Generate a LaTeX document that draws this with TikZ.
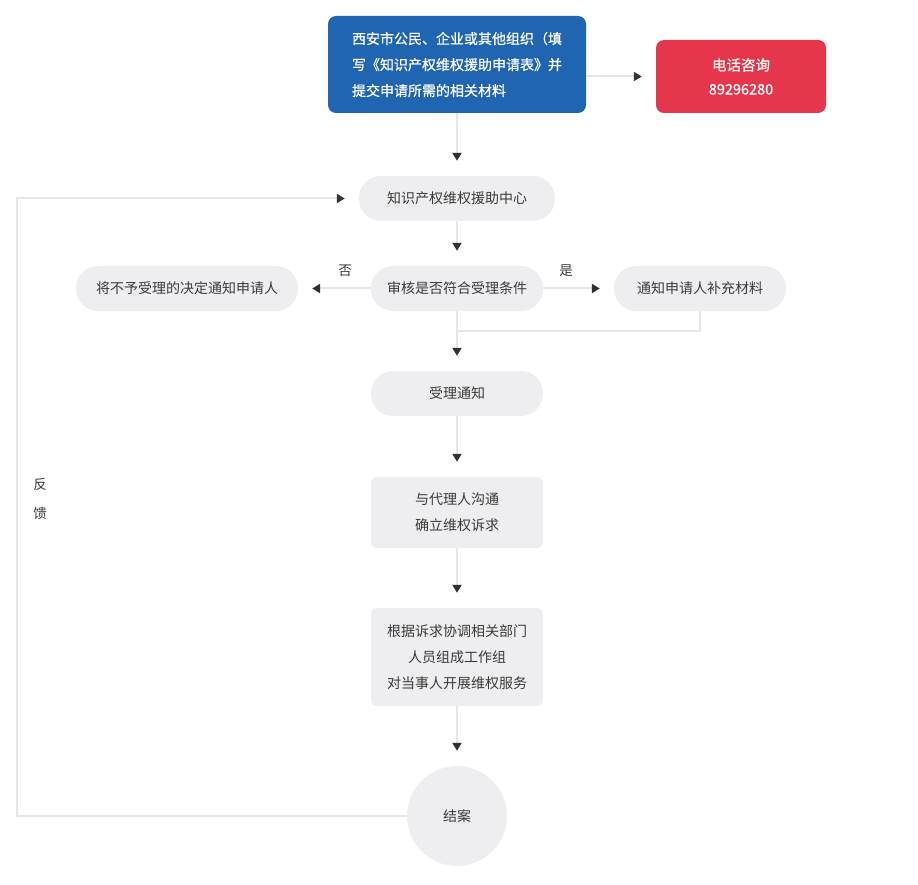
\documentclass[tikz,border=0pt]{standalone}
\usepackage{fontspec}
\setmainfont{Noto Sans CJK SC}
\newfontfamily\boldcjk[FakeBold=0.6]{Noto Sans CJK SC}
\usetikzlibrary{arrows.meta}
\definecolor{bluebox}{HTML}{1F65B2}
\definecolor{redbox}{HTML}{E5364B}
\definecolor{pillgray}{HTML}{EEEEF0}
\definecolor{linegray}{HTML}{E6E6E6}
\definecolor{tipgray}{HTML}{333333}
\definecolor{txtgray}{HTML}{3A3A3A}
\newcommand{\fs}{\fontsize{14}{26}\selectfont}
\begin{document}
\begin{tikzpicture}[x=1pt,y=-1pt,
  conn/.style={draw=linegray, line width=2pt},
  arr/.style={conn, -{Triangle[length=8pt,width=9pt,color=tipgray]}, shorten >=14pt},
  pill/.style={fill=pillgray, rounded corners=22pt, minimum height=45pt, inner sep=0pt, text=txtgray, font=\fs, align=center},
  rbox/.style={fill=pillgray, rounded corners=6pt, minimum width=172pt, inner sep=0pt, text=txtgray, font=\fs, align=center},
  lbl/.style={text=txtgray, font=\fontsize{13.5}{15}\selectfont, inner sep=0pt}
]
\useasboundingbox (0,0) rectangle (918,885);

\node[fill=bluebox, rounded corners=8pt, minimum width=258pt, minimum height=97pt, inner sep=0pt,
  text=white, font=\boldcjk\fontsize{14}{26}\selectfont, align=left] (apply) at (457,64.5)
  {西安市公民、企业或其他组织（填\\写《知识产权维权援助申请表》并\\提交申请所需的相关材料};
\node[fill=redbox, rounded corners=8pt, minimum width=170pt, minimum height=73pt, inner sep=0pt,
  text=white, font=\boldcjk\fontsize{14.5}{24}\selectfont, align=center] (phone) at (741,76.5)
  {电话咨询\\89296280};

\node[pill, minimum width=196pt] (center) at (457,198.5) {知识产权维权援助中心};
\node[pill, minimum width=172pt] (audit) at (457,288.5) {审核是否符合受理条件};
\node[pill, minimum width=222pt] (reject) at (187,288.5) {将不予受理的决定通知申请人};
\node[pill, minimum width=172pt] (supp) at (700,288.5) {通知申请人补充材料};
\node[pill, minimum width=172pt] (notice) at (457,393.5) {受理通知};
\node[rbox, minimum height=71pt] (talk) at (457,512.5) {与代理人沟通\\确立维权诉求};
\node[rbox, minimum height=98pt] (coord) at (457,657) {根据诉求协调相关部门\\人员组成工作组\\对当事人开展维权服务};
\node[circle, fill=pillgray, minimum size=100pt, inner sep=0pt, text=txtgray, font=\fs] (end) at (457,816) {结案};

\node[lbl] (no) at (345,271) {否};
\node[lbl] (yes) at (566,271) {是};
\node[lbl] (fb1) at (40,484) {反};
\node[lbl] (fb2) at (40,513) {馈};

\coordinate (merge) at (457,331);
\coordinate (fbA) at (17,816);
\coordinate (fbB) at (17,198.5);

\draw[arr] (apply.east |- phone.west) -- (phone.west);
\draw[arr, shorten >=15pt] (apply.south) -- (center.north);
\draw[arr, shorten >=15pt] (center.south) -- (audit.north);
\draw[arr] (audit.west) -- (reject.east);
\draw[arr] (audit.east) -- (supp.east -| supp.west);
\draw[conn] (supp.south) |- (merge);
\draw[arr, shorten >=15pt] (audit.south) -- (notice.north);
\draw[arr, shorten >=15pt] (notice.south) -- (talk.north);
\draw[arr, shorten >=15pt] (talk.south) -- (coord.north);
\draw[arr, shorten >=15pt] (coord.south) -- (end.north);
\draw[arr] (end.west) -- (fbA) -- (fbB) -- (center.west);
\end{tikzpicture}
\end{document}
